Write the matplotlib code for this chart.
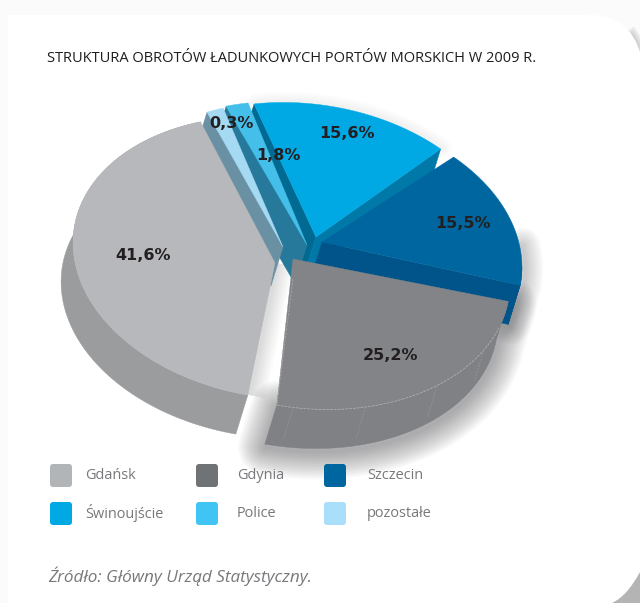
import numpy as np
import matplotlib
matplotlib.use('Agg')
import matplotlib.pyplot as plt
from matplotlib.patches import Polygon, FancyBboxPatch, PathPatch
from matplotlib.path import Path

categories = ['Gdańsk', 'Gdynia', 'Szczecin', 'Świnoujście', 'Police', 'pozostałe']
values = [41.6, 25.2, 15.5, 15.6, 1.8, 0.3]
labels = ['41,6%', '25,2%', '15,5%', '15,6%', '1,8%', '0,3%']
title = 'STRUKTURA OBROTÓW ŁADUNKOWYCH PORTÓW MORSKICH W 2009 R.'
source = 'Źródło: Główny Urząd Statystyczny.'

top_cols = ['#b7b8bb', '#838487', '#00669f', '#00a8e4', '#44bfea', '#a6d9f2']
wall_cols = ['#9b9c9e', '#808184', '#00548a', '#0078a8', '#27799b', '#6a90a3']
leg_cols = ['#b1b5b8', '#6f7376', '#00669f', '#00a8e4', '#40c4f4', '#a9dffb']

# pie geometry, in pixels of the page
a, b = 205, 140
tilt = np.radians(8)
ext = np.array([-12, 39])
start = 117.5
centres = [(277, 258), (306, 268), (318, 252), (305, 244), (299, 243), (301, 244)]
apexes = [(275, 263), (293, 259), (322, 242), (316, 237), (307, 245), (283, 247)]


def rim(c, t0, t1):
    t = np.radians(np.linspace(t0, t1, 80))
    x, y = a * np.cos(t), -b * np.sin(t)
    return np.column_stack([c[0] + x * np.cos(tilt) - y * np.sin(tilt),
                            c[1] + x * np.sin(tilt) + y * np.cos(tilt)])


# sweep of each slice, the smallest one is drawn wider than its share
sweeps = np.array(values) * 3.6
spans = []
t = start
for s in sweeps:
    spans.append((t, t + s))
    t += s
spans[5] = (spans[4][1] + 1.5, spans[4][1] + 6.5)

fig = plt.figure(figsize=(6.4, 6.03), dpi=100)
ax = fig.add_axes([0, 0, 1, 1])
ax.set_xlim(0, 640)
ax.set_ylim(603, 0)
ax.axis('off')

# page with rounded card
ax.add_patch(plt.Rectangle((0, 0), 640, 603, fc='#fbfbfb', ec='none', zorder=0))
card = Path([(8, 15), (590, 15), (618, 15), (633, 30), (640, 52), (640, 572), (630, 590), (622, 598),
             (612, 603), (8, 603), (8, 15)],
            [Path.MOVETO, Path.LINETO, Path.CURVE4, Path.CURVE4, Path.CURVE4, Path.LINETO, Path.CURVE4,
             Path.CURVE4, Path.CURVE4, Path.LINETO, Path.CLOSEPOLY])
ax.add_patch(plt.Rectangle((605, 565), 35, 38, fc='#b4b4b4', ec='none', zorder=0.5))
# grey edge round the upper corner
u = np.linspace(0.72, 1, 20)[:, None]
corner = ((1 - u) ** 3 * np.array([590, 15]) + 3 * (1 - u) ** 2 * u * np.array([618, 15]) +
          3 * (1 - u) * u ** 2 * np.array([633, 30]) + u ** 3 * np.array([640, 52]))
for lw in (9, 6, 3):
    ax.plot(corner[:, 0], corner[:, 1], color='#8f8f8f', lw=lw, alpha=0.14, zorder=0.6)
ax.add_patch(PathPatch(card, fc='white', ec='none', zorder=1))


def wedge_top(i):
    return np.vstack([apexes[i], rim(centres[i], *spans[i])])


def side(r):
    return np.vstack([r, (r + ext)[::-1]])


def radial(p, q):
    p, q = np.array(p, float), np.array(q, float)
    return np.vstack([p, q, q + ext, p + ext])


# soft shadow, only to the lower right of the pie
def shadow(pts, off, widest, alpha):
    for lw in range(widest, 0, -2):
        ax.add_patch(Polygon(pts + np.array(off), closed=True, fc='none', ec='#4d4e52', lw=lw, alpha=alpha,
                             joinstyle='round', zorder=2))


shadow(side(rim(centres[1], *spans[1])), (1, 3), 40, 0.028)
shadow(side(rim(centres[2], *spans[2])[:25]), (3, 2), 26, 0.022)
shadow(wedge_top(3)[1:], (2, -1), 14, 0.008)
shadow(np.array([apexes[0], rim(centres[0], *spans[0])[-1]]), (2, 0), 24, 0.014)

z = 3


def draw(pts, col):
    global z
    ax.add_patch(Polygon(pts, closed=True, fc=col, ec=col, lw=0.3, zorder=z))
    z += 1


# Świnoujście
r = rim(centres[3], *spans[3])
draw(radial(r[-1], apexes[3]), '#006a92')
draw(radial(r[0], apexes[3]), wall_cols[3])
draw(wedge_top(3), top_cols[3])

# Szczecin
r = rim(centres[2], *spans[2])
draw(radial(apexes[2], r[0]), wall_cols[2])
draw(side(r[:12]), wall_cols[2])
draw(wedge_top(2), top_cols[2])

# Police and pozostałe
r = rim(centres[4], *spans[4])
draw(radial(r[-1], apexes[4]), wall_cols[4])
draw(wedge_top(4), top_cols[4])
r = rim(centres[5], *spans[5])
draw(radial(r[-1], apexes[5]), wall_cols[5])
draw(wedge_top(5), top_cols[5])

# Gdańsk
r = rim(centres[0], *spans[0])
draw(side(r), wall_cols[0])
draw(wedge_top(0), top_cols[0])

# Gdynia
r = rim(centres[1], *spans[1])
draw(side(r), wall_cols[1])
draw(wedge_top(1), top_cols[1])
ax.plot(r[:-10, 0], r[:-10, 1], color='#b4b5b7', lw=0.5, ls=(0, (4, 1.5)), zorder=z)
ax.plot([apexes[1][0], r[0, 0]], [apexes[1][1] + 20, r[0, 1]], color='#a9aaac', lw=0.5, ls=(0, (4, 1.5)), zorder=z)
for k in (4, 22, 42, 60):
    ax.plot([r[k, 0], r[k, 0] + ext[0] * 0.8], [r[k, 1], r[k, 1] + ext[1] * 0.8], color='#97989a', lw=0.5,
            ls=(0, (3, 1.5)), zorder=z)
z += 1

# value labels
label_pos = [(143, 255), (390, 356), (463, 224), (347, 133), (278, 156), (231, 124)]
for s, (x, y) in zip(labels, label_pos):
    ax.text(x, y, s, ha='center', va='center', fontsize=11.5, fontweight='bold', family='DejaVu Sans',
            color='#231f20', zorder=z)

ax.text(47, 58.5, title, ha='left', va='center', fontsize=10.56, family='Open Sans', color='#1d1d1b', zorder=z)

# legend
leg_x = [50, 196, 324]
leg_tx = [85, 237, 367]
leg_y = [475.5, 513.5]
for i, name in enumerate(categories):
    col, row = i % 3, i // 3
    ax.add_patch(FancyBboxPatch((leg_x[col], leg_y[row] - 11.5), 22, 23, boxstyle='round,pad=0,rounding_size=3',
                                fc=leg_cols[i], ec='none', zorder=z))
    ax.text(leg_tx[col], leg_y[row], name, ha='left', va='center', fontsize=10.45, family='Open Sans',
            color='#77787b', zorder=z)

ax.text(48, 576, source, ha='left', va='center', fontsize=12.3, style='italic', family='Open Sans',
        color='#77787b', zorder=z)

fig.savefig('out.png', dpi=100)
